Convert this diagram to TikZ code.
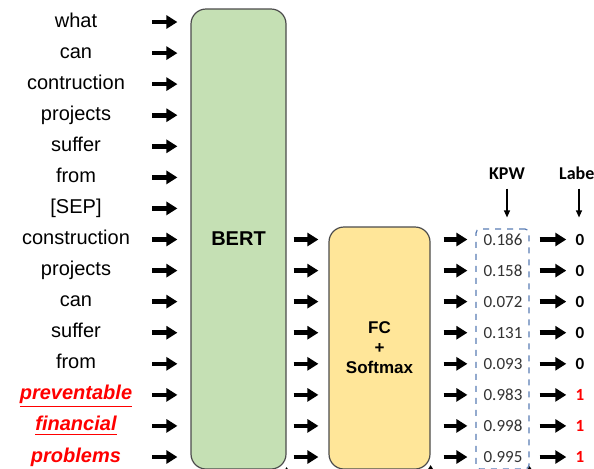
\documentclass[tikz,border=0pt]{standalone}
\usepackage{fontspec}
\setmainfont{Liberation Sans}
\newfontfamily\calibri{Carlito}
\usetikzlibrary{
    arrows.meta,
    positioning,
    calc
}
\definecolor{bertgreen}{HTML}{C5E0B4}
\definecolor{fcyellow}{HTML}{FFE699}
\definecolor{kpwblue}{HTML}{5A7DB5}
\definecolor{valgray}{HTML}{333333}
\tikzset{
    word/.style={font=\fontsize{10}{12}\selectfont, inner sep=0pt, text height=7.5pt, text depth=2.5pt},
    keyword/.style={word, text=red, font=\fontsize{10}{12}\selectfont\bfseries\itshape},
    val/.style={font=\calibri\fontsize{8.5}{10}\selectfont, text=valgray, inner sep=0pt},
    lab/.style={font=\calibri\fontsize{8.5}{10}\selectfont\bfseries, inner sep=0pt},
    head/.style={font=\calibri\fontsize{9}{11}\selectfont\bfseries, inner sep=0pt, text height=6.5pt, text depth=0pt},
    block/.style={draw=black!70, line width=0.6pt, rounded corners=7.5pt},
    fat/.style={line width=2.3pt, -{Triangle[length=5.5pt,width=6.5pt]}},
    pointer/.style={line width=0.6pt, -{Triangle[length=3.5pt,width=3pt]}}
}

\begin{document}
\begin{tikzpicture}[x=0.5pt,y=-0.5pt]
                                \clip (0,0) rectangle (594,468);
                                \fill[white] (0,0) rectangle (594,468);

                                \node[word] (w1) at (76, 22) {what};
                                \node[word] (w2) at (76, 53.1) {can};
                                \node[word] (w3) at (76, 84.1) {contruction};
                                \node[word] (w4) at (76, 115.2) {projects};
                                \node[word] (w5) at (76, 146.3) {suffer};
                                \node[word] (w6) at (76, 177.4) {from};
                                \node[word] (w7) at (76, 208.4) {[SEP]};
                                \node[word] (w8) at (76, 239.5) {construction};
                                \node[word] (w9) at (76, 270.6) {projects};
                                \node[word] (w10) at (76, 301.6) {can};
                                \node[word] (w11) at (76, 332.7) {suffer};
                                \node[word] (w12) at (76, 363.8) {from};
                                \node[keyword] (w13) at (76, 394.9) {\underline{preventable}};
                                \node[keyword] (w14) at (76, 425.9) {\underline{financial}};
                                \node[keyword] (w15) at (76, 457) {\underline{problems}};

                                \node[block, fill=bertgreen, minimum width=47.5pt, minimum height=230pt,
                                      font=\fontsize{10}{12}\selectfont\bfseries] (bert) at (238.5, 239) {BERT};
                                \node[block, fill=fcyellow, minimum width=50.5pt, minimum height=121pt,
                                      font=\fontsize{8.5}{10}\selectfont\bfseries, align=center] (fc) at (379.5, 348) {FC\\+\\Softmax};
                                \node[draw=kpwblue, dashed, line width=0.6pt, rounded corners=2pt,
                                      minimum width=26.5pt, minimum height=120pt] (kpw) at (502.5, 349) {};

                                \node[val] (p1) at (503, 239.5) {0.186};
                                \node[val] (p2) at (503, 270.6) {0.158};
                                \node[val] (p3) at (503, 301.6) {0.072};
                                \node[val] (p4) at (503, 332.7) {0.131};
                                \node[val] (p5) at (503, 363.8) {0.093};
                                \node[val] (p6) at (503, 394.9) {0.983};
                                \node[val] (p7) at (503, 425.9) {0.998};
                                \node[val] (p8) at (503, 457) {0.995};

                                \node[lab] (l1) at (580, 239.5) {0};
                                \node[lab] (l2) at (580, 270.6) {0};
                                \node[lab] (l3) at (580, 301.6) {0};
                                \node[lab] (l4) at (580, 332.7) {0};
                                \node[lab] (l5) at (580, 363.8) {0};
                                \node[lab, text=red] (l6) at (580, 394.9) {1};
                                \node[lab, text=red] (l7) at (580, 425.9) {1};
                                \node[lab, text=red] (l8) at (580, 457) {1};

                                \node[head] (hkpw) at (507, 173) {KPW};
                                \node[head] (hlab) at (579, 173) {Label};

                                \coordinate (ain) at (152, 0);

                                % words into BERT
                                \draw[fat, shorten >=6.5pt]
                                (w1 -| ain) edge (w1 -| bert.west)
                                (w2 -| ain) edge (w2 -| bert.west)
                                (w3 -| ain) edge (w3 -| bert.west)
                                (w4 -| ain) edge (w4 -| bert.west)
                                (w5 -| ain) edge (w5 -| bert.west)
                                (w6 -| ain) edge (w6 -| bert.west)
                                (w7 -| ain) edge (w7 -| bert.west)
                                (w8 -| ain) edge (w8 -| bert.west)
                                (w9 -| ain) edge (w9 -| bert.west)
                                (w10 -| ain) edge (w10 -| bert.west)
                                (w11 -| ain) edge (w11 -| bert.west)
                                (w12 -| ain) edge (w12 -| bert.west)
                                (w13 -| ain) edge (w13 -| bert.west)
                                (w14 -| ain) edge (w14 -| bert.west)
                                (w15 -| ain) edge (w15 -| bert.west);

                                % BERT into FC
                                \draw[fat, shorten <=3.5pt, shorten >=5pt]
                                (p1 -| bert.east) edge (p1 -| fc.west)
                                (p2 -| bert.east) edge (p2 -| fc.west)
                                (p3 -| bert.east) edge (p3 -| fc.west)
                                (p4 -| bert.east) edge (p4 -| fc.west)
                                (p5 -| bert.east) edge (p5 -| fc.west)
                                (p6 -| bert.east) edge (p6 -| fc.west)
                                (p7 -| bert.east) edge (p7 -| fc.west)
                                (p8 -| bert.east) edge (p8 -| fc.west);

                                % FC into KPW
                                \draw[fat, shorten <=6.5pt, shorten >=4pt]
                                (p1 -| fc.east) edge (p1 -| kpw.west)
                                (p2 -| fc.east) edge (p2 -| kpw.west)
                                (p3 -| fc.east) edge (p3 -| kpw.west)
                                (p4 -| fc.east) edge (p4 -| kpw.west)
                                (p5 -| fc.east) edge (p5 -| kpw.west)
                                (p6 -| fc.east) edge (p6 -| kpw.west)
                                (p7 -| fc.east) edge (p7 -| kpw.west)
                                (p8 -| fc.east) edge (p8 -| kpw.west);

                                % KPW into labels
                                \draw[fat, shorten <=5pt, shorten >=4.5pt]
                                (p1 -| kpw.east) edge (l1.west)
                                (p2 -| kpw.east) edge (l2.west)
                                (p3 -| kpw.east) edge (l3.west)
                                (p4 -| kpw.east) edge (l4.west)
                                (p5 -| kpw.east) edge (l5.west)
                                (p6 -| kpw.east) edge (l6.west)
                                (p7 -| kpw.east) edge (l7.west)
                                (p8 -| kpw.east) edge (l8.west);

                                \draw[pointer, shorten <=4.3pt, shorten >=5.5pt]
                                (hkpw.south) -- (hkpw.south |- kpw.north);
                                \draw[pointer, shorten <=4.3pt, shorten >=5.5pt]
                                (hlab.south) -- (hlab.south |- kpw.north);
                            \end{tikzpicture}
\end{document}
